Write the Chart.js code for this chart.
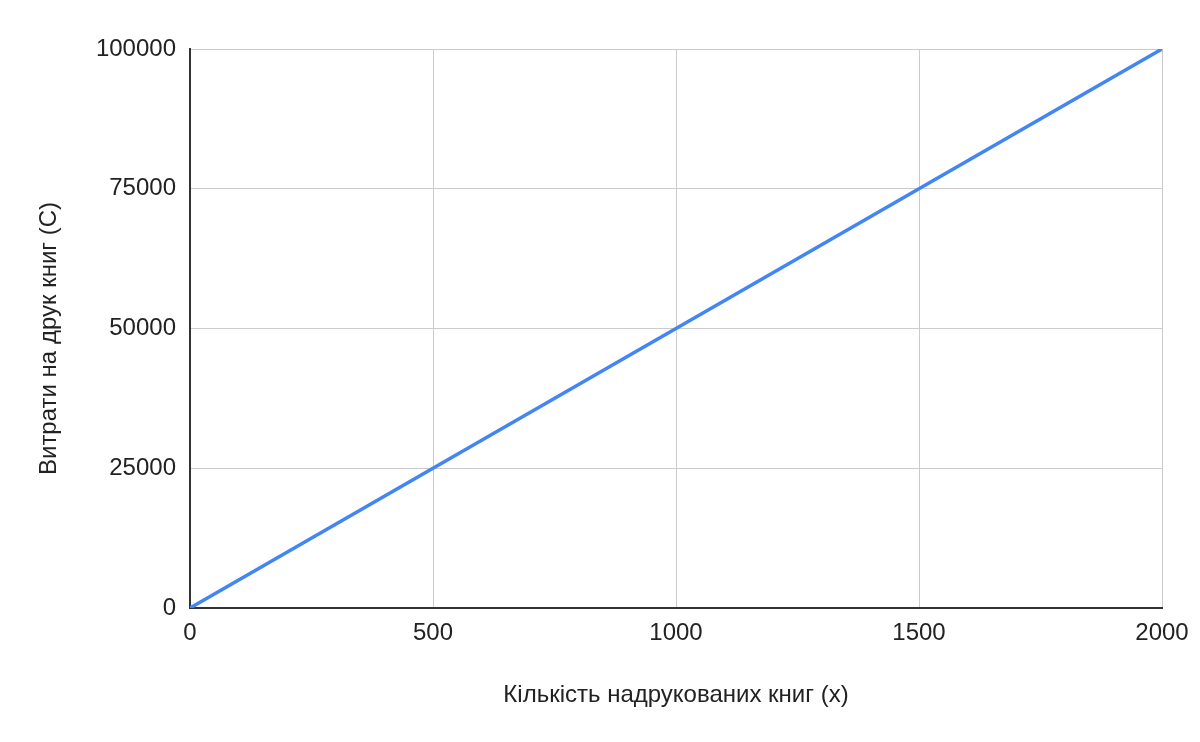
<!DOCTYPE html>
<html>
<head>
<meta charset="utf-8">
<script src="https://cdn.jsdelivr.net/npm/chart.js@4"></script>
<style>
  body { margin: 0; background: #fff; }
  canvas { display: block; }
</style>
</head>
<body>
<canvas id="costChart" width="1200" height="742"></canvas>
<script>
// data
const booksX = [0, 500, 1000, 1500, 2000]
const costC = [0, 25000, 50000, 75000, 100000]
const xTitle = 'Кількість надрукованих книг (x)'
const yTitle = 'Витрати на друк книг (C)'

const FONT = "'Liberation Sans', Arial, sans-serif"

document.addEventListener('DOMContentLoaded', () => {
  const ctx = document.getElementById('costChart')

  new Chart(ctx.getContext('2d'), {
    type: 'line',
    data: {
      datasets: [
        {
          label: yTitle,
          data: booksX.map((x, i) => ({ x: x, y: costC[i] })),
          borderColor: '#4285F4',
          borderWidth: 3.5,
          pointRadius: 0,
          tension: 0,
          fill: false
        }
      ]
    },
    options: {
      responsive: false,
      animation: false,
      layout: { padding: { top: 49, right: 38, left: 0, bottom: 0 } },
      plugins: {
        legend: { display: false },
        tooltip: { enabled: false }
      },
      scales: {
        x: {
          type: 'linear',
          min: 0,
          max: 2000,
          ticks: {
            stepSize: 500,
            padding: 11,
            color: '#222',
            font: { family: FONT, size: 24 },
            callback: v => String(v)
          },
          grid: { color: '#cccccc', lineWidth: 1, drawTicks: false },
          border: { color: '#333333', width: 2 },
          title: {
            display: true,
            text: xTitle,
            color: '#222',
            font: { family: FONT, size: 24 },
            padding: { top: 0, bottom: 32 }
          },
          afterFit: scale => { scale.height = 134 }
        },
        y: {
          min: 0,
          max: 100000,
          ticks: {
            stepSize: 25000,
            padding: 14,
            color: '#222',
            font: { family: FONT, size: 24 },
            callback: v => String(v)
          },
          grid: { color: '#cccccc', lineWidth: 1, drawTicks: false },
          border: { color: '#333333', width: 2 },
          title: {
            display: true,
            // trailing spaces nudge the centred title a bit lower, like the original
            text: yTitle + '   ',
            color: '#222',
            font: { family: FONT, size: 24 },
            padding: { top: 35, bottom: 0 }
          },
          afterFit: scale => { scale.width = 190 }
        }
      }
    }
  })
})
</script>
</body>
</html>
